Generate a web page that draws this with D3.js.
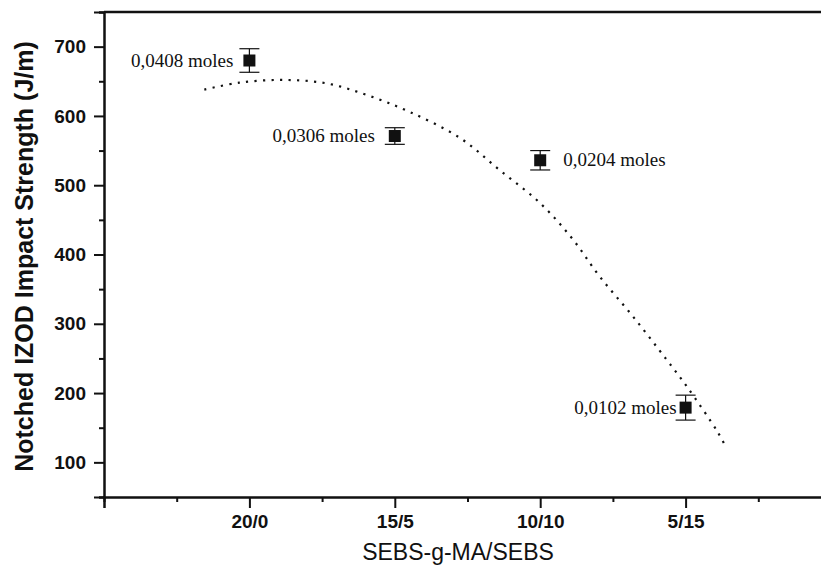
<!DOCTYPE html>
<html>
<head>
<meta charset="utf-8">
<script src="https://cdn.jsdelivr.net/npm/d3@7"></script>
<style>
  html, body { margin: 0; padding: 0; background: #fff; }
  svg { display: block; }
  .tick text { font-family: "Liberation Sans", Arial, sans-serif; font-size: 19px; font-weight: bold; fill: #111; }
  .axis-title { font-family: "Liberation Sans", Arial, sans-serif; fill: #111; }
  .mole-label { font-family: "Liberation Serif", "Times New Roman", serif; font-size: 19px; fill: #111; }
</style>
</head>
<body>
<div id="chart"></div>
<script>
// compositions on the x axis (category positions 1..4)
const ratios = ["20/0", "15/5", "10/10", "5/15"];
const impact = [680, 571, 536, 179];
const impactErr = [17, 12, 14, 18];
const moleLabels = ["0,0408 moles", "0,0306 moles", "0,0204 moles", "0,0102 moles"];

// dotted trend curve (x in category positions)
const fitX = [0.69, 0.93, 1.23, 1.53, 1.81, 2.10, 2.45, 2.72, 3.00, 3.22, 3.41, 3.64, 3.87, 4.01, 4.22, 4.28];
const fitY = [638, 648, 652, 647, 630, 606, 568, 522, 474, 423, 368, 310, 248, 209, 144, 121];

const yMajor = [100, 200, 300, 400, 500, 600, 700];
const yMinor = [50, 150, 250, 350, 450, 550, 650, 750];
const xMajor = [0, 1, 2, 3, 4, 5];
const xMinor = [0.5, 1.5, 2.5, 3.5, 4.5];

// label placement: side and gap from the marker centre
const labelSide = ["left", "left", "right", "left"];
const labelGap = [16, 20, 23, 9];

const width = 821;
const height = 565;
const plot = { left: 104, right: 831, top: 12, bottom: 497 };

const svg = d3.select("#chart")
  .append("svg")
  .attr("width", width)
  .attr("height", height);

const x = d3.scaleLinear().domain([0, 5]).range([plot.left, plot.right]);
const y = d3.scaleLinear().domain([50, 750]).range([plot.bottom, plot.top]);

function styleAxis(g) {
  g.select(".domain").attr("stroke", "#111").attr("stroke-width", 2);
  g.selectAll(".tick line").attr("stroke", "#111").attr("stroke-width", 2);
}

// minor ticks first
svg.append("g")
  .attr("transform", `translate(0,${plot.bottom})`)
  .call(d3.axisBottom(x).tickValues(xMinor).tickSize(5).tickFormat(""))
  .call(styleAxis);
svg.append("g")
  .attr("transform", `translate(${plot.left},0)`)
  .call(d3.axisLeft(y).tickValues(yMinor).tickSize(5).tickFormat(""))
  .call(styleAxis);

// major ticks
svg.append("g")
  .attr("transform", `translate(0,${plot.bottom})`)
  .call(d3.axisBottom(x).tickValues(xMajor).tickSize(11).tickPadding(7)
    .tickFormat(d => (d >= 1 && d <= 4 ? ratios[d - 1] : "")))
  .call(styleAxis);
svg.append("g")
  .attr("transform", `translate(${plot.left},0)`)
  .call(d3.axisLeft(y).tickValues(yMajor).tickSize(10).tickPadding(8))
  .call(styleAxis);

// top frame line
svg.append("line")
  .attr("x1", plot.left).attr("x2", plot.right)
  .attr("y1", plot.top).attr("y2", plot.top)
  .attr("stroke", "#111").attr("stroke-width", 2.5);

// axis titles
svg.append("text")
  .attr("class", "axis-title")
  .attr("x", 458)
  .attr("y", 560)
  .attr("text-anchor", "middle")
  .style("font-size", "23px")
  .text("SEBS-g-MA/SEBS");

svg.append("text")
  .attr("class", "axis-title")
  .attr("transform", `translate(33,${(plot.top + plot.bottom) / 2 + 2}) rotate(-90)`)
  .attr("text-anchor", "middle")
  .style("font-size", "25px")
  .style("font-weight", "bold")
  .text("Notched IZOD Impact Strength (J/m)");

// dotted curve
const curvePts = fitX.map((d, i) => [d, fitY[i]]);
svg.append("path")
  .attr("d", d3.line().x(d => x(d[0])).y(d => y(d[1])).curve(d3.curveCatmullRom)(curvePts))
  .attr("fill", "none")
  .attr("stroke", "#111")
  .attr("stroke-width", 2.2)
  .attr("stroke-dasharray", "2.2,6.3");

// error bars
const pts = ratios.map((r, i) => ({ pos: i + 1, v: impact[i], e: impactErr[i], label: moleLabels[i] }));
const capW = 10;
const eb = svg.append("g").attr("stroke", "#111").attr("stroke-width", 1.2);
pts.forEach(d => {
  const cx = x(d.pos);
  eb.append("line").attr("x1", cx).attr("x2", cx).attr("y1", y(d.v + d.e)).attr("y2", y(d.v - d.e));
  eb.append("line").attr("x1", cx - capW).attr("x2", cx + capW).attr("y1", y(d.v + d.e)).attr("y2", y(d.v + d.e));
  eb.append("line").attr("x1", cx - capW).attr("x2", cx + capW).attr("y1", y(d.v - d.e)).attr("y2", y(d.v - d.e));
});

// square markers
const size = 12;
svg.append("g")
  .selectAll("rect")
  .data(pts)
  .join("rect")
  .attr("x", d => x(d.pos) - size / 2)
  .attr("y", d => y(d.v) - size / 2)
  .attr("width", size)
  .attr("height", size)
  .attr("fill", "#111");

// mole labels
svg.append("g")
  .selectAll("text")
  .data(pts)
  .join("text")
  .attr("class", "mole-label")
  .attr("x", (d, i) => labelSide[i] === "left" ? x(d.pos) - labelGap[i] : x(d.pos) + labelGap[i])
  .attr("y", d => y(d.v) + 6)
  .attr("text-anchor", (d, i) => labelSide[i] === "left" ? "end" : "start")
  .text(d => d.label);
</script>
</body>
</html>
